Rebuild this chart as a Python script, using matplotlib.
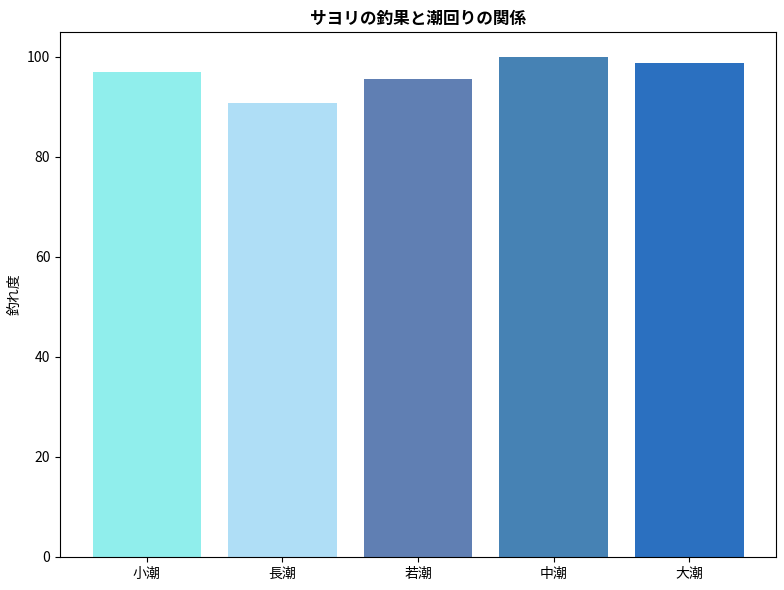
import matplotlib
matplotlib.use('Agg')
import matplotlib.pyplot as plt

plt.rcParams['font.family'] = ['Noto Sans CJK JP', 'DejaVu Sans']

# 潮回りごとの釣れ度
tides = ['小潮', '長潮', '若潮', '中潮', '大潮']
scores = [97.0, 90.7, 95.6, 100.0, 98.7]
colors = ['#90EEEC', '#AFDEF6', '#607FB3', '#4682B4', '#2B70C0']

fig, ax = plt.subplots(figsize=(7.84, 5.9), dpi=100)
ax.bar(tides, scores, color=colors)

ax.set_ylabel('釣れ度', fontsize=10)
ax.set_title('サヨリの釣果と潮回りの関係', fontsize=12, fontweight='bold')

fig.subplots_adjust(left=0.0765, right=0.99, top=0.946, bottom=0.056)
plt.savefig('out.png')
